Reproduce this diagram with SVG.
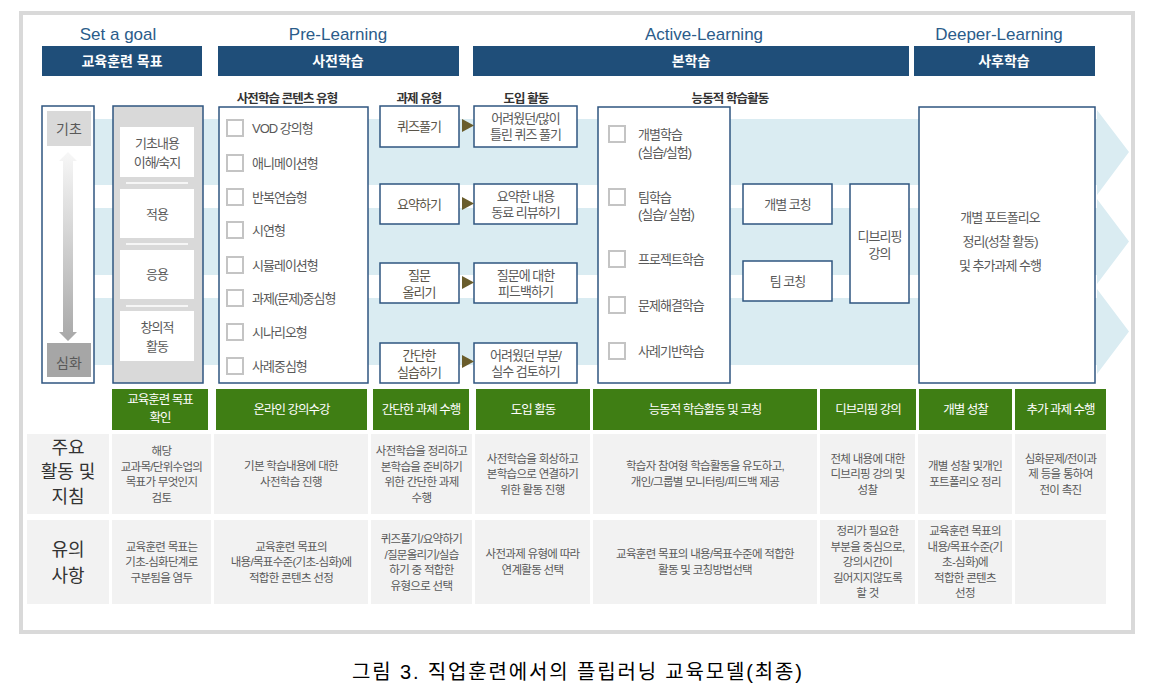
<svg xmlns="http://www.w3.org/2000/svg" width="1156" height="693" viewBox="0 0 1156 693" font-family="'Liberation Sans','Noto Sans CJK KR',sans-serif">
<style>
.bar{fill:#1f4e79}
.bartxt{fill:#fff;font-size:14px;font-weight:bold;text-anchor:middle}
.phase{fill:#2b5c8a;font-size:17px;text-anchor:middle}
.box{fill:#fff;stroke:#2f5580;stroke-width:1.5}
.chk{fill:#fff;stroke:#c4c4c4;stroke-width:2}
.band{fill:#daecf2}
.hdr{fill:#333;font-size:12.5px;font-weight:bold;letter-spacing:-0.9px;text-anchor:middle}
.item{fill:#595959;font-size:13px;letter-spacing:-1px}
.btxt{fill:#595959;font-size:13px;letter-spacing:-1px;text-anchor:middle}
.ttxt{fill:#5a5448;font-size:13px;letter-spacing:-1px;text-anchor:middle}
.green{fill:#3f7e14}
.gtxt{fill:#fff;font-size:12.5px;letter-spacing:-1px;text-anchor:middle}
.cell{fill:#f2f2f2}
.ctxt{fill:#595959;font-size:11.5px;letter-spacing:-0.7px;text-anchor:middle}
.lbl{fill:#333;font-size:18px;text-anchor:middle}
.tri{fill:#6a5d2c}
</style>
<defs>
<linearGradient id="grad" x1="0" y1="0" x2="0" y2="1">
<stop offset="0" stop-color="#f7f7f7"/>
<stop offset="1" stop-color="#a8a8a8"/>
</linearGradient>
</defs>
<rect x="21" y="13" width="1112" height="619" fill="#fff" stroke="#d9d9d9" stroke-width="4"/>

<g id="phases">
<text class="phase" x="118" y="40">Set a goal</text>
<text class="phase" x="338" y="40">Pre-Learning</text>
<text class="phase" x="704" y="40">Active-Learning</text>
<text class="phase" x="999" y="40">Deeper-Learning</text>
<rect class="bar" x="42" y="46" width="160" height="30"/>
<text class="bartxt" x="122" y="66">교육훈련 목표</text>
<rect class="bar" x="218" y="46" width="241" height="30"/>
<text class="bartxt" x="338" y="66">사전학습</text>
<rect class="bar" x="473" y="46" width="436" height="30"/>
<text class="bartxt" x="691" y="66">본학습</text>
<rect class="bar" x="914" y="46" width="181" height="30"/>
<text class="bartxt" x="1004" y="66">사후학습</text>
</g>

<g id="bands">
<polygon class="band" points="42,119 1097,119 1097,110 1129,152 1097,195 1097,185 42,185"/>
<polygon class="band" points="42,208 1097,208 1097,199 1129,241.5 1097,284 1097,275 42,275"/>
<polygon class="band" points="42,298 1097,298 1097,289 1129,331.5 1097,374 1097,365 42,365"/>
</g>

<g id="level-scale">
<rect class="box" x="42" y="106" width="52" height="277"/>
<rect x="47" y="111" width="44" height="35" fill="#d9d9d9"/>
<text x="69" y="134" fill="#595959" font-size="14" text-anchor="middle">기초</text>
<rect x="47" y="343" width="44" height="34" fill="#a6a6a6"/>
<text x="69" y="368" fill="#595959" font-size="14" text-anchor="middle">심화</text>
<path d="M68,152 L77,161 L73,161 L73,332 L77,332 L68,341 L59,332 L63,332 L63,161 L59,161 Z" fill="url(#grad)"/>
</g>

<g id="goal-levels">
<rect x="113" y="106" width="90" height="277" fill="#d9d9d9" stroke="#2f5580" stroke-width="1.5"/>
<rect x="120" y="127" width="74" height="50" fill="#fff"/>
<rect x="120" y="189" width="74" height="49" fill="#fff"/>
<rect x="120" y="250" width="74" height="49" fill="#fff"/>
<rect x="120" y="311" width="74" height="50" fill="#fff"/>
<g stroke="#fff" stroke-width="1.5">
<line x1="126" y1="183" x2="188" y2="183"/>
<line x1="126" y1="244" x2="188" y2="244"/>
<line x1="126" y1="306" x2="188" y2="306"/>
</g>
<text class="btxt" x="157" y="148">기초내용</text>
<text class="btxt" x="157" y="167">이해/숙지</text>
<text class="btxt" x="157" y="219">적용</text>
<text class="btxt" x="157" y="279">응용</text>
<text class="btxt" x="157" y="332">창의적</text>
<text class="btxt" x="157" y="351">활동</text>
</g>

<g id="content-types">
<text class="hdr" x="287" y="103">사전학습 콘텐츠 유형</text>
<rect class="box" x="219" y="107" width="149" height="276"/>
<rect class="chk" x="227" y="120" width="16" height="16"/>
<text class="item" x="252" y="133">VOD 강의형</text>
<rect class="chk" x="227" y="155" width="16" height="16"/>
<text class="item" x="252" y="168">애니메이션형</text>
<rect class="chk" x="227" y="189" width="16" height="16"/>
<text class="item" x="252" y="202">반복연습형</text>
<rect class="chk" x="227" y="222" width="16" height="16"/>
<text class="item" x="252" y="235">시연형</text>
<rect class="chk" x="227" y="257" width="16" height="16"/>
<text class="item" x="252" y="270">시뮬레이션형</text>
<rect class="chk" x="227" y="290" width="16" height="16"/>
<text class="item" x="252" y="303">과제(문제)중심형</text>
<rect class="chk" x="227" y="324" width="16" height="16"/>
<text class="item" x="252" y="337">시나리오형</text>
<rect class="chk" x="227" y="358" width="16" height="16"/>
<text class="item" x="252" y="371">사례중심형</text>
</g>

<g id="task-types">
<text class="hdr" x="419" y="103">과제 유형</text>
<rect class="box" x="380" y="106" width="79" height="41"/>
<text class="ttxt" x="419" y="131">퀴즈풀기</text>
<rect class="box" x="380" y="184" width="79" height="40"/>
<text class="ttxt" x="419" y="209">요약하기</text>
<rect class="box" x="380" y="263" width="79" height="40"/>
<text class="ttxt" x="419" y="280">질문</text>
<text class="ttxt" x="419" y="297">올리기</text>
<rect class="box" x="380" y="343" width="79" height="40"/>
<text class="ttxt" x="419" y="360">간단한</text>
<text class="ttxt" x="419" y="377">실습하기</text>
</g>

<g id="intro-activities">
<text class="hdr" x="526" y="103">도입 활동</text>
<rect class="box" x="474" y="106" width="103" height="41"/>
<text class="btxt" x="525.5" y="123">어려웠던/많이</text>
<text class="btxt" x="525.5" y="139">틀린 퀴즈 풀기</text>
<rect class="box" x="474" y="184" width="103" height="40"/>
<text class="btxt" x="525.5" y="201">요약한 내용</text>
<text class="btxt" x="525.5" y="217">동료 리뷰하기</text>
<rect class="box" x="474" y="263" width="103" height="40"/>
<text class="btxt" x="525.5" y="280">질문에 대한</text>
<text class="btxt" x="525.5" y="296">피드백하기</text>
<rect class="box" x="474" y="343" width="103" height="40"/>
<text class="btxt" x="525.5" y="360">어려웠던 부분/</text>
<text class="btxt" x="525.5" y="376">실수 검토하기</text>
</g>

<g id="active-activities">
<text class="hdr" x="730" y="103">능동적 학습활동</text>
<rect class="box" x="598" y="107" width="132" height="276"/>
<rect class="chk" x="609" y="126" width="16" height="16"/>
<text class="item" x="638" y="139">개별학습</text>
<text class="item" x="638" y="157">(실습/실험)</text>
<rect class="chk" x="609" y="189" width="16" height="16"/>
<text class="item" x="638" y="202">팀학습</text>
<text class="item" x="638" y="219">(실습/ 실험)</text>
<rect class="chk" x="609" y="251" width="16" height="16"/>
<text class="item" x="638" y="264">프로젝트학습</text>
<rect class="chk" x="609" y="297" width="16" height="16"/>
<text class="item" x="638" y="310">문제해결학습</text>
<rect class="chk" x="609" y="343" width="16" height="16"/>
<text class="item" x="638" y="356">사례기반학습</text>
</g>

<g id="coaching-individual">
<rect class="box" x="743" y="184" width="89" height="40"/>
<text class="btxt" x="787.5" y="209">개별 코칭</text>
</g>
<g id="coaching-team">
<rect class="box" x="743" y="261" width="89" height="40"/>
<text class="btxt" x="787.5" y="286">팀 코칭</text>
</g>
<g id="debriefing">
<rect class="box" x="850" y="184" width="59" height="119"/>
<text class="btxt" x="879.5" y="241">디브리핑</text>
<text class="btxt" x="879.5" y="258">강의</text>
</g>

<g id="deeper">
<rect class="box" x="919" y="107" width="176" height="276"/>
<text class="btxt" x="1000" y="222" font-size="12" letter-spacing="-0.8">개별 포트폴리오</text>
<text class="btxt" x="1000" y="246" font-size="12" letter-spacing="-0.8">정리(성찰 활동)</text>
<text class="btxt" x="1000" y="270" font-size="12" letter-spacing="-0.8">및 추가과제 수행</text>
</g>

<g id="connectors">
<polygon class="tri" points="462,119 474,125.5 462,132"/>
<polygon class="tri" points="462,197 474,203.5 462,210"/>
<polygon class="tri" points="462,276 474,282.5 462,289"/>
<polygon class="tri" points="462,355 474,361.5 462,368"/>
</g>

<g id="step-row">
<rect class="green" x="112" y="389" width="96" height="41"/>
<text class="gtxt" x="160" y="404">교육훈련 목표</text>
<text class="gtxt" x="160" y="422">확인</text>
<rect class="green" x="216" y="389" width="151" height="41"/>
<text class="gtxt" x="291.5" y="414">온라인 강의수강</text>
<rect class="green" x="373" y="389" width="96" height="41"/>
<text class="gtxt" x="421" y="414">간단한 과제 수행</text>
<rect class="green" x="476" y="389" width="114" height="41"/>
<text class="gtxt" x="533" y="414">도입 활동</text>
<rect class="green" x="593" y="389" width="224" height="41"/>
<text class="gtxt" x="705" y="414">능동적 학습활동 및 코칭</text>
<rect class="green" x="820" y="389" width="96" height="41"/>
<text class="gtxt" x="868" y="414">디브리핑 강의</text>
<rect class="green" x="919" y="389" width="93" height="41"/>
<text class="gtxt" x="965.5" y="414">개별 성찰</text>
<rect class="green" x="1015" y="389" width="91" height="41"/>
<text class="gtxt" x="1060.5" y="414">추가 과제 수행</text>
</g>

<g id="row-activities">
<rect class="cell" x="27" y="434" width="82" height="80"/>
<text class="lbl" x="68" y="454">주요</text>
<text class="lbl" x="68" y="478">활동 및</text>
<text class="lbl" x="68" y="503">지침</text>
<rect class="cell" x="112" y="434" width="99" height="80"/>
<text class="ctxt" x="161.5" y="455">해당</text>
<text class="ctxt" x="161.5" y="470.5">교과목/단위수업의</text>
<text class="ctxt" x="161.5" y="486">목표가 무엇인지</text>
<text class="ctxt" x="161.5" y="501.5">검토</text>
<rect class="cell" x="214" y="434" width="154" height="80"/>
<text class="ctxt" x="291" y="470">기본 학습내용에 대한</text>
<text class="ctxt" x="291" y="486">사전학습 진행</text>
<rect class="cell" x="371" y="434" width="101" height="80"/>
<text class="ctxt" x="421.5" y="455">사전학습을 정리하고</text>
<text class="ctxt" x="421.5" y="470.5">본학습을 준비하기</text>
<text class="ctxt" x="421.5" y="486">위한 간단한 과제</text>
<text class="ctxt" x="421.5" y="501.5">수행</text>
<rect class="cell" x="475" y="434" width="115" height="80"/>
<text class="ctxt" x="532.5" y="462.5">사전학습을 회상하고</text>
<text class="ctxt" x="532.5" y="478">본학습으로 연결하기</text>
<text class="ctxt" x="532.5" y="493.5">위한 활동 진행</text>
<rect class="cell" x="593" y="434" width="224" height="80"/>
<text class="ctxt" x="705" y="470">학습자 참여형 학습활동을 유도하고,</text>
<text class="ctxt" x="705" y="486">개인/그룹별 모니터링/피드백 제공</text>
<rect class="cell" x="820" y="434" width="95" height="80"/>
<text class="ctxt" x="867.5" y="462.5">전체 내용에 대한</text>
<text class="ctxt" x="867.5" y="478">디브리핑 강의 및</text>
<text class="ctxt" x="867.5" y="493.5">성찰</text>
<rect class="cell" x="918" y="434" width="94" height="80"/>
<text class="ctxt" x="965" y="470">개별 성찰 및개인</text>
<text class="ctxt" x="965" y="486">포트폴리오 정리</text>
<rect class="cell" x="1015" y="434" width="91" height="80"/>
<text class="ctxt" x="1060.5" y="462.5">심화문제/전이과</text>
<text class="ctxt" x="1060.5" y="478">제 등을 통하여</text>
<text class="ctxt" x="1060.5" y="493.5">전이 촉진</text>
</g>

<g id="row-notes">
<rect class="cell" x="27" y="520" width="82" height="84"/>
<text class="lbl" x="68" y="555.5">유의</text>
<text class="lbl" x="68" y="581.5">사항</text>
<rect class="cell" x="112" y="520" width="99" height="84"/>
<text class="ctxt" x="161.5" y="550.5">교육훈련 목표는</text>
<text class="ctxt" x="161.5" y="566">기초-심화단계로</text>
<text class="ctxt" x="161.5" y="581.5">구분됨을 염두</text>
<rect class="cell" x="214" y="520" width="154" height="84"/>
<text class="ctxt" x="291" y="550.5">교육훈련 목표의</text>
<text class="ctxt" x="291" y="566">내용/목표수준(기초-심화)에</text>
<text class="ctxt" x="291" y="581.5">적합한 콘텐츠 선정</text>
<rect class="cell" x="371" y="520" width="101" height="84"/>
<text class="ctxt" x="421.5" y="543">퀴즈풀기/요약하기</text>
<text class="ctxt" x="421.5" y="558.5">/질문올리기/실습</text>
<text class="ctxt" x="421.5" y="574">하기 중 적합한</text>
<text class="ctxt" x="421.5" y="589.5">유형으로 선택</text>
<rect class="cell" x="475" y="520" width="115" height="84"/>
<text class="ctxt" x="532.5" y="558">사전과제 유형에 따라</text>
<text class="ctxt" x="532.5" y="574">연계활동 선택</text>
<rect class="cell" x="593" y="520" width="224" height="84"/>
<text class="ctxt" x="705" y="558">교육훈련 목표의 내용/목표수준에 적합한</text>
<text class="ctxt" x="705" y="574">활동 및 코칭방법선택</text>
<rect class="cell" x="820" y="520" width="95" height="84"/>
<text class="ctxt" x="867.5" y="535">정리가 필요한</text>
<text class="ctxt" x="867.5" y="550.5">부분을 중심으로,</text>
<text class="ctxt" x="867.5" y="566">강의시간이</text>
<text class="ctxt" x="867.5" y="581.5">길어지지않도록</text>
<text class="ctxt" x="867.5" y="597">할 것</text>
<rect class="cell" x="918" y="520" width="94" height="84"/>
<text class="ctxt" x="965" y="535">교육훈련 목표의</text>
<text class="ctxt" x="965" y="550.5">내용/목표수준(기</text>
<text class="ctxt" x="965" y="566">초-심화)에</text>
<text class="ctxt" x="965" y="581.5">적합한 콘텐츠</text>
<text class="ctxt" x="965" y="597">선정</text>
<rect class="cell" x="1015" y="520" width="91" height="84"/>
</g>

<text x="352" y="679" font-size="20" fill="#000" textLength="450" lengthAdjust="spacing">그림 3. 직업훈련에서의 플립러닝 교육모델(최종)</text>
</svg>
